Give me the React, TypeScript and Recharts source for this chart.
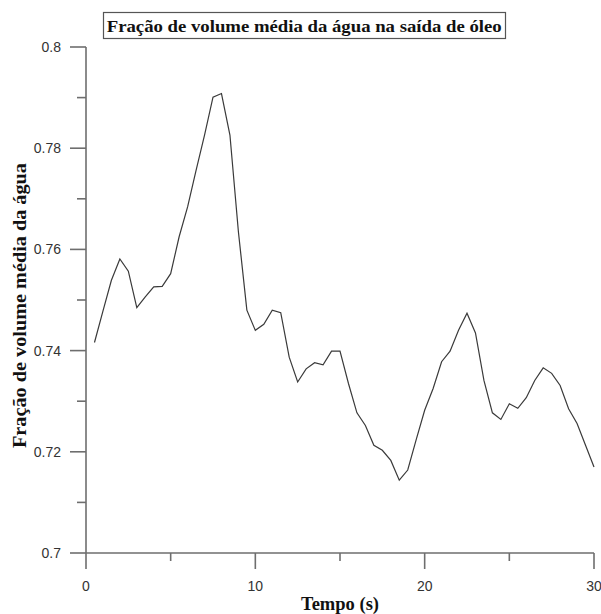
import { LineChart, Line, XAxis, YAxis } from "recharts";

const tempo = [
  0.5, 1, 1.5, 2, 2.5, 3, 3.5, 4, 4.5, 5,
  5.5, 6, 6.5, 7, 7.5, 8, 8.5, 9, 9.5, 10,
  10.5, 11, 11.5, 12, 12.5, 13, 13.5, 14, 14.5, 15,
  15.5, 16, 16.5, 17, 17.5, 18, 18.5, 19, 19.5, 20,
  20.5, 21, 21.5, 22, 22.5, 23, 23.5, 24, 24.5, 25,
  25.5, 26, 26.5, 27, 27.5, 28, 28.5, 29, 29.5, 30,
];

const fracao = [
  0.7416, 0.7478, 0.7539, 0.7581, 0.7557, 0.7485, 0.7506, 0.7526, 0.7527, 0.7552,
  0.7625, 0.7684, 0.7756, 0.7826, 0.7901, 0.7908, 0.7826, 0.7635, 0.748, 0.744,
  0.7452, 0.748, 0.7475, 0.7387, 0.7338, 0.7364, 0.7376, 0.7372, 0.7399, 0.7399,
  0.7335, 0.7277, 0.7252, 0.7213, 0.7203, 0.7183, 0.7144, 0.7164, 0.7224, 0.7282,
  0.7325, 0.7378, 0.7399, 0.744, 0.7474, 0.7435, 0.7341, 0.7277, 0.7264, 0.7295,
  0.7286, 0.7307, 0.7341, 0.7366, 0.7355, 0.7331, 0.7285, 0.7256, 0.7213, 0.717,
];

const xTicks = [0, 5, 10, 15, 20, 25, 30];
const yTicks = [0.7, 0.71, 0.72, 0.73, 0.74, 0.75, 0.76, 0.77, 0.78, 0.79, 0.8];

const titulo = "Fração de volume média da água na saída de óleo";
const xTitulo = "Tempo (s)";
const yTitulo = "Fração de volume média da água";

const data = tempo.map((t, i) => ({ t, v: fracao[i] }));

const AXIS = "#6e6e6e";
const TICK_FONT = "'Liberation Sans', Arial, sans-serif";
const SERIF = "'Liberation Serif', 'Times New Roman', serif";

const XTick = ({ x, y, payload }: any) => {
  const major = payload.value % 10 === 0;
  return (
    <g>
      <line x1={x} x2={x} y1={y} y2={y + (major ? 16 : 8)} stroke={AXIS} strokeWidth={1.6} />
      {major && (
        <text x={x} y={y + 38} textAnchor="middle" fontSize={14} fill="#333" fontFamily={TICK_FONT}>
          {payload.value}
        </text>
      )}
    </g>
  );
};

const YTick = ({ x, y, payload }: any) => {
  const major = Math.round(payload.value * 100) % 2 === 0;
  return (
    <g>
      <line x1={x - (major ? 16 : 9)} x2={x} y1={y} y2={y} stroke={AXIS} strokeWidth={1.6} />
      {major && (
        <text x={x - 25} y={y + 5} textAnchor="end" fontSize={14} fill="#333" fontFamily={TICK_FONT}>
          {parseFloat(payload.value.toFixed(2))}
        </text>
      )}
    </g>
  );
};

export default function App() {
  return (
    <div style={{ position: "absolute", left: 0, top: 0, width: 601, height: 614, background: "#fff" }}>
      <LineChart width={601} height={614} data={data} margin={{ top: 47, right: 7, left: 26, bottom: 31 }}>
        <XAxis
          dataKey="t" type="number" domain={[0, 30]} ticks={xTicks} interval={0}
          height={30} tickSize={0} tickMargin={0} tick={<XTick />}
          axisLine={{ stroke: AXIS, strokeWidth: 1.6 }}
        />
        <YAxis
          type="number" domain={[0.7, 0.8]} ticks={yTicks} interval={0} allowDataOverflow
          width={60} tickSize={0} tickMargin={0} tick={<YTick />}
          axisLine={{ stroke: AXIS, strokeWidth: 1.6 }}
        />
        <Line type="linear" dataKey="v" stroke="#3a3a3a" strokeWidth={1.2} dot={false} isAnimationActive={false} />
      </LineChart>
      <svg width={601} height={614} style={{ position: "absolute", left: 0, top: 0, pointerEvents: "none" }}>
        <rect x={103.5} y={12.5} width={402} height={26} fill="#fff" stroke="#555" strokeWidth={1.2} />
        <text x={304.2} y={32} textAnchor="middle" fontSize={17} fontWeight="bold" fontFamily={SERIF} fill="#111"
          textLength={395} lengthAdjust="spacingAndGlyphs">
          {titulo}
        </text>
        <text x={340} y={610} textAnchor="middle" fontSize={18} fontWeight="bold" fontFamily={SERIF} fill="#111"
          textLength={78} lengthAdjust="spacingAndGlyphs">
          {xTitulo}
        </text>
        <text transform="translate(26, 305.5) rotate(-90)" textAnchor="middle" fontSize={18} fontWeight="bold" fontFamily={SERIF} fill="#111"
          textLength={285} lengthAdjust="spacingAndGlyphs">
          {yTitulo}
        </text>
      </svg>
    </div>
  );
}
